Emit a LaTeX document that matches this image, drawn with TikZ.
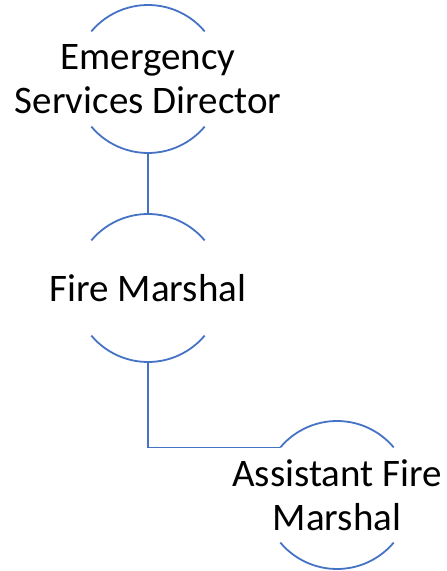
\documentclass[tikz,border=0pt]{standalone}
\usepackage{fontspec}
\setmainfont{Carlito}
\usepackage{tikz}
\definecolor{officeblue}{RGB}{68,114,196}
\newcommand{\ringarcs}[1]{%
    \draw[arcline] (#1.140) arc[start angle=140, end angle=40, radius=74pt];
    \draw[arcline] (#1.220) arc[start angle=220, end angle=320, radius=74pt];}

\begin{document}
\begin{tikzpicture}[x=1pt, y=1pt,
    ring/.style={circle, minimum size=148pt, inner sep=0pt, outer sep=0pt},
    ringtext/.style={align=center, inner sep=0pt, text=black,
        font=\fontsize{39}{44}\selectfont},
    arcline/.style={officeblue, line width=1.8pt},
    link/.style={officeblue, line width=1.8pt}]
    \useasboundingbox (0,0) rectangle (447,571);

    % people
    \node[ring, label={[ringtext]center:{Emergency\\Services Director}}] (esd) at (148,492) {};
    \node[ring, label={[ringtext]center:{Fire Marshal}}] (fm) at (148,283) {};
    \node[ring, label={[ringtext]center:{Assistant Fire\\Marshal}}] (afm) at (337,76) {};

    % half rings round each name
    \foreach \n in {esd, fm, afm} {\ringarcs{\n}}

    % reporting lines
    \draw[link] (esd.south) -- (fm.north);
    \draw[link] (fm.south) |- (afm.140);
\end{tikzpicture}
\end{document}
